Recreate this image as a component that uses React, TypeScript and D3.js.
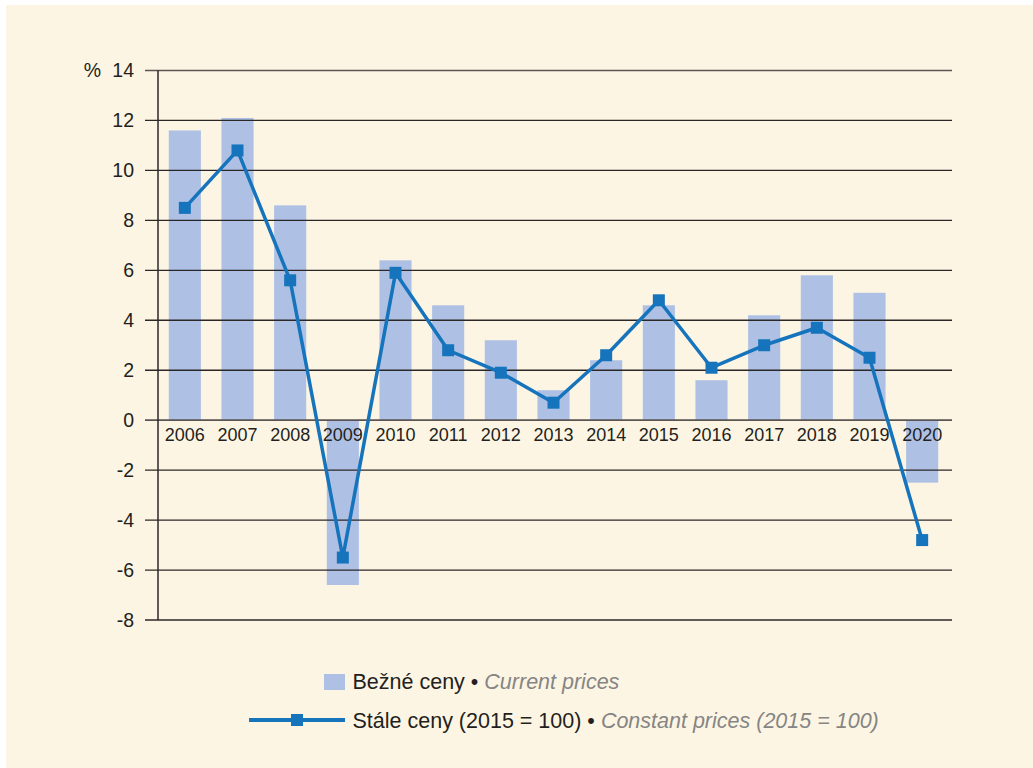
import React from "react";
import * as d3 from "d3";

const years = ["2006","2007","2008","2009","2010","2011","2012","2013","2014","2015","2016","2017","2018","2019","2020"];
const currentPrices = [11.6, 12.1, 8.6, -6.6, 6.4, 4.6, 3.2, 1.2, 2.4, 4.6, 1.6, 4.2, 5.8, 5.1, -2.5];
const constantPrices = [8.5, 10.8, 5.6, -5.5, 5.9, 2.8, 1.9, 0.7, 2.6, 4.8, 2.1, 3.0, 3.7, 2.5, -4.8];
const yTicks = [14, 12, 10, 8, 6, 4, 2, 0, -2, -4, -6, -8];

const W = 1033, H = 768;
const BG = "#FDF5E3";
const BAR = "#AEC1E5";
const LINE = "#1574BC";
const TXT = "#231F20";
const FONT = "Liberation Sans, Arial, sans-serif";

export default function App() {
  const x = d3.scaleBand<string>().domain(years).range([158.5, 948.5]).paddingInner(0.39).paddingOuter(0.195);
  const y = d3.scaleLinear().domain([-8, 14]).range([620, 70.5]);
  const bw = x.bandwidth();
  const cx = (yr: string) => (x(yr) as number) + bw / 2;
  const line = d3.line<number>().x((_, i) => cx(years[i])).y((v) => y(v));
  const gridEnd = 952;
  const axisX = 158;

  return (
    <svg width={W} height={H} style={{ position: "absolute", left: 0, top: 0 }} fontFamily={FONT}>
      <rect x={0} y={0} width={W} height={H} fill="#fff" />
      <rect x={6} y={5} width={W - 6} height={H - 5} fill={BG} />
      {currentPrices.map((v, i) => (
        <rect key={"b" + i} x={x(years[i])} y={y(Math.max(0, v))} width={bw} height={Math.abs(y(v) - y(0))} fill={BAR} />
      ))}
      {yTicks.map((t) => (
        <line key={"g" + t} x1={145} x2={gridEnd} y1={y(t)} y2={y(t)} stroke={t === 0 || t === 14 ? "#5a5553" : "#2b2727"} strokeWidth={t === 0 ? 1.8 : 1.3} />
      ))}
      <line x1={axisX} x2={axisX} y1={y(14)} y2={y(-8)} stroke="#2b2727" strokeWidth={1.5} />
      {yTicks.map((t) => (
        <text key={"t" + t} x={134} y={y(t)} dy="0.35em" textAnchor="end" fontSize={19.5} fill={TXT}>{t}</text>
      ))}
      <text x={101} y={y(14)} dy="0.35em" textAnchor="end" fontSize={19.5} fill={TXT}>%</text>
      {years.map((yr) => (
        <text key={"x" + yr} x={cx(yr)} y={441} textAnchor="middle" fontSize={18} fill={TXT}>{yr}</text>
      ))}
      <path d={line(constantPrices) || ""} fill="none" stroke={LINE} strokeWidth={3.5} strokeLinejoin="round" />
      {constantPrices.map((v, i) => (
        <rect key={"m" + i} x={cx(years[i]) - 6} y={y(v) - 6} width={12} height={12} fill={LINE} />
      ))}
      {/* legend */}
      <rect x={324} y={674} width={21} height={16} fill={BAR} />
      <text x={352.5} y={689} fontSize={21.5} fill={TXT}>
        Bežné ceny • <tspan fill="#858585" fontStyle="italic">Current prices</tspan>
      </text>
      <line x1={249} x2={345} y1={720} y2={720} stroke={LINE} strokeWidth={4} />
      <rect x={291} y={714} width={12} height={12} fill={LINE} />
      <text x={352.5} y={728} fontSize={21.5} fill={TXT}>
        Stále ceny (2015 = 100) • <tspan fill="#858585" fontStyle="italic">Constant prices (2015 = 100)</tspan>
      </text>
    </svg>
  );
}
